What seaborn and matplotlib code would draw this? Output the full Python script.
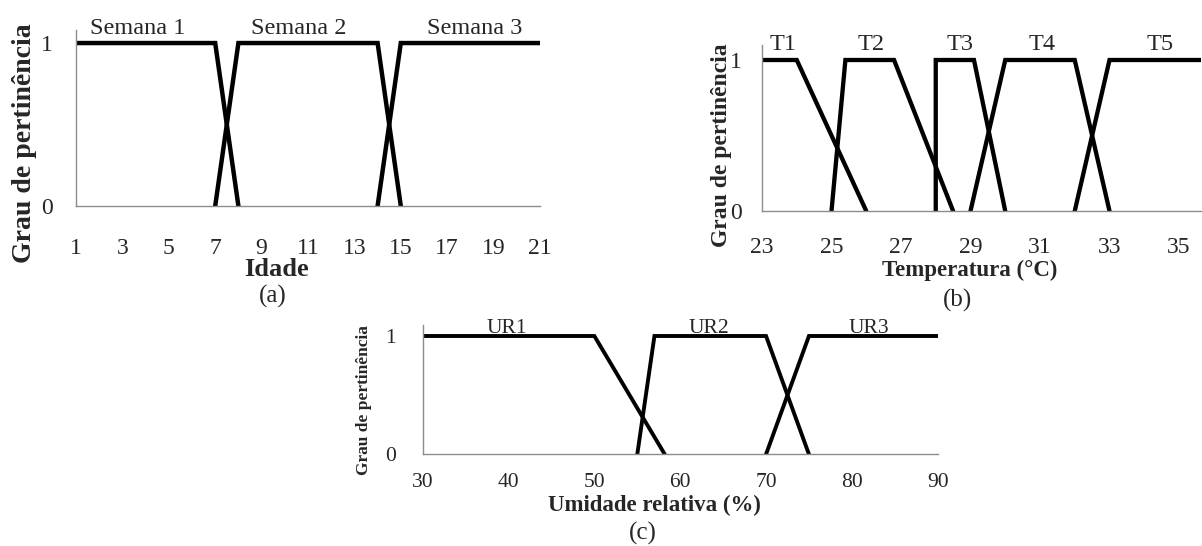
import matplotlib
matplotlib.use("Agg")
import matplotlib.pyplot as plt
import seaborn as sns
import pandas as pd

# ---------------- data ----------------
# (a) Idade
idade_ticks = [1, 3, 5, 7, 9, 11, 13, 15, 17, 19, 21]
semana1_x = [1, 7, 8]
semana1_y = [1, 1, 0]
semana2_x = [7, 8, 14, 15]
semana2_y = [0, 1, 1, 0]
semana3_x = [14, 15, 21]
semana3_y = [0, 1, 1]
idade_names = ["Semana 1", "Semana 2", "Semana 3"]
idade_name_x = [3.65, 10.6, 18.2]

# (b) Temperatura
temp_ticks = [23, 25, 27, 29, 31, 33, 35]
t1_x = [23, 24, 26]
t1_y = [1, 1, 0]
t2_x = [25, 25.4, 26.8, 28.5]
t2_y = [0, 1, 1, 0]
t3_x = [28, 28, 29.1, 30]
t3_y = [0, 1, 1, 0]
t4_x = [29, 30, 32, 33]
t4_y = [0, 1, 1, 0]
t5_x = [32, 33, 36]
t5_y = [0, 1, 1]
temp_names = ["T1", "T2", "T3", "T4", "T5"]
temp_name_x = [23.6, 26.15, 28.7, 31.05, 34.45]

# (c) Umidade relativa
ur_ticks = [30, 40, 50, 60, 70, 80, 90]
ur1_x = [30, 50, 58.2]
ur1_y = [1, 1, 0]
ur2_x = [55, 57, 70, 75]
ur2_y = [0, 1, 1, 0]
ur3_x = [70, 75, 90]
ur3_y = [0, 1, 1]
ur_names = ["UR1", "UR2", "UR3"]
ur_name_x = [39.8, 63.3, 82.0]

# ---------------- style ----------------
sns.set_style("white")
plt.rcParams["font.family"] = ["Liberation Serif", "DejaVu Serif"]

W, H = 1202, 546
fig = plt.figure(figsize=(W / 100, H / 100), dpi=100)

def px_axes(left, top, right, bottom):
    return fig.add_axes([left / W, 1 - bottom / H, (right - left) / W, (bottom - top) / H])

GRAY = "#8c8c8c"

def draw(ax, xs, ys, lw):
    for x, y in zip(xs, ys):
        df = pd.DataFrame({"x": x, "y": y})
        sns.lineplot(data=df, x="x", y="y", sort=False, estimator=None,
                     color="black", lw=lw, ax=ax, solid_joinstyle="miter")

def style(ax, xlim, ylim, xticks):
    ax.set_xlim(*xlim)
    ax.set_ylim(*ylim)
    ax.set_xticks(xticks)
    ax.set_yticks([0, 1])
    ax.set_yticklabels(["0", "1"])
    for s in ["top", "right"]:
        ax.spines[s].set_visible(False)
    for s in ["left", "bottom"]:
        ax.spines[s].set_color(GRAY)
        ax.spines[s].set_linewidth(1.0)
    ax.set_facecolor("none")

# ---------- (a) ----------
axa = px_axes(76, 30, 540, 206)
draw(axa, [semana1_x, semana2_x, semana3_x], [semana1_y, semana2_y, semana3_y], 3.2)
style(axa, (1, 21), (0, 1.08), idade_ticks)
axa.tick_params(axis="x", length=0, pad=23, labelsize=17)
axa.tick_params(axis="y", length=0, pad=17, labelsize=17)
for nm, xx in zip(idade_names, idade_name_x):
    axa.text(xx, 1.09, nm, ha="center", va="center", fontsize=17.5)
axa.set_xlabel("Idade", fontsize=19, fontweight="bold", va="center")
axa.xaxis.set_label_coords((276 - 76) / 464, (206 - 269) / 176)
axa.set_ylabel("Grau de pertinência", fontsize=20, fontweight="bold", va="center", ha="center")
axa.yaxis.set_label_coords((25 - 76) / 464, (206 - 143) / 176)

# ---------- (b) ----------
axb = px_axes(762, 45, 1201, 211)
draw(axb, [t1_x, t2_x, t3_x, t4_x, t5_x], [t1_y, t2_y, t3_y, t4_y, t5_y], 3.1)
style(axb, (23, 23 + 439 / 34.75), (0, 166 / 151), temp_ticks)
axb.tick_params(axis="x", length=4.5, width=1, color=GRAY, direction="out", pad=14, labelsize=17)
axb.tick_params(axis="y", length=4.5, width=1, color=GRAY, direction="out", pad=10, labelsize=17)
for nm, xx in zip(temp_names, temp_name_x):
    axb.text(xx, 1.1, nm, ha="center", va="center", fontsize=17.5)
axb.set_xlabel("Temperatura (°C)", fontsize=16.5, fontweight="bold", va="center")
axb.xaxis.set_label_coords((970 - 762) / 439, (211 - 270) / 166)
axb.set_ylabel("Grau de pertinência", fontsize=17, fontweight="bold", va="center", ha="center")
axb.yaxis.set_label_coords((721 - 762) / 439, (211 - 145) / 166)

# ---------- (c) ----------
axc = px_axes(422.7, 325, 937.7, 454.3)
draw(axc, [ur1_x, ur2_x, ur3_x], [ur1_y, ur2_y, ur3_y], 2.8)
style(axc, (30, 90), (0, 129.3 / 118.3), ur_ticks)
axc.tick_params(axis="x", length=0, pad=13.5, labelsize=15.5)
axc.tick_params(axis="y", length=0, pad=19.5, labelsize=15.5)
for nm, xx in zip(ur_names, ur_name_x):
    axc.text(xx, 1.06, nm, ha="center", va="center", fontsize=15.5)
axc.set_xlabel("Umidade relativa (%)", fontsize=16.5, fontweight="bold", va="center")
axc.xaxis.set_label_coords((654 - 422.7) / 515, (454.3 - 505) / 129.3)
axc.set_ylabel("Grau de pertinência", fontsize=12.5, fontweight="bold", va="center", ha="center")
axc.yaxis.set_label_coords((364 - 422.7) / 515, (454.3 - 400) / 129.3)

# ---------- captions ----------
fig.text(273 / W, 1 - 296 / H, "(a)", ha="center", va="center", fontsize=18)
fig.text(958 / W, 1 - 300 / H, "(b)", ha="center", va="center", fontsize=18)
fig.text(643 / W, 1 - 533 / H, "(c)", ha="center", va="center", fontsize=18)

fig.savefig("out.png", dpi=100, facecolor="white")
